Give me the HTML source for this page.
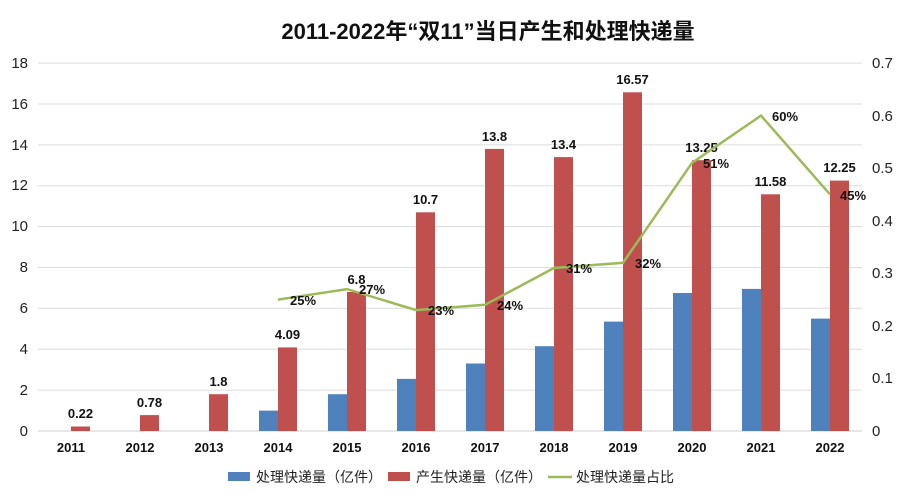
<!DOCTYPE html><html><head><meta charset="utf-8"><style>body{margin:0;background:#fff}svg{display:block;font-family:"Liberation Sans","Noto Sans CJK SC",sans-serif}</style></head><body>
<svg width="900" height="500" viewBox="0 0 900 500">
<rect width="900" height="500" fill="#fff"/>
<text x="488" y="39" text-anchor="middle" font-size="22" font-weight="bold" fill="#111">2011-2022年“双11”当日产生和处理快递量</text>
<g stroke="#dcdcdc" stroke-width="1">
<line x1="38" x2="862" y1="390.1" y2="390.1"/><line x1="38" x2="862" y1="349.2" y2="349.2"/><line x1="38" x2="862" y1="308.3" y2="308.3"/><line x1="38" x2="862" y1="267.5" y2="267.5"/><line x1="38" x2="862" y1="226.6" y2="226.6"/><line x1="38" x2="862" y1="185.7" y2="185.7"/><line x1="38" x2="862" y1="144.9" y2="144.9"/><line x1="38" x2="862" y1="104" y2="104"/><line x1="38" x2="862" y1="63.1" y2="63.1"/>
</g>
<line x1="38" x2="862" y1="431" y2="431" stroke="#cfcfcf"/>
<g font-size="15" fill="#222" text-anchor="end">
<text x="28" y="436">0</text><text x="28" y="395">2</text><text x="28" y="354">4</text><text x="28" y="313">6</text><text x="28" y="272">8</text><text x="28" y="231">10</text><text x="28" y="190">12</text><text x="28" y="150">14</text><text x="28" y="109">16</text><text x="28" y="68">18</text>
</g>
<g font-size="15" fill="#222" text-anchor="start">
<text x="872" y="436">0</text><text x="872" y="383">0.1</text><text x="872" y="331">0.2</text><text x="872" y="278">0.3</text><text x="872" y="226">0.4</text><text x="872" y="173">0.5</text><text x="872" y="121">0.6</text><text x="872" y="68">0.7</text>
</g>
<g fill="#4f81bd">
<rect x="259" y="410.6" width="19" height="20.4"/><rect x="328" y="394.2" width="19" height="36.8"/><rect x="397" y="378.9" width="19" height="52.1"/><rect x="466" y="363.5" width="19" height="67.5"/><rect x="535" y="346.2" width="19" height="84.8"/><rect x="604" y="321.6" width="19" height="109.4"/><rect x="673" y="293" width="19" height="138"/><rect x="742" y="288.9" width="19" height="142.1"/><rect x="811" y="318.6" width="19" height="112.4"/>
</g>
<g fill="#c0504d">
<rect x="71" y="426.5" width="19" height="4.5"/><rect x="140" y="415.1" width="19" height="15.9"/><rect x="209" y="394.2" width="19" height="36.8"/><rect x="278" y="347.4" width="19" height="83.6"/><rect x="347" y="292" width="19" height="139"/><rect x="416" y="212.3" width="19" height="218.7"/><rect x="485" y="148.9" width="19" height="282.1"/><rect x="554" y="157.1" width="19" height="273.9"/><rect x="623" y="92.3" width="19" height="338.7"/><rect x="692" y="160.2" width="19" height="270.8"/><rect x="761" y="194.3" width="19" height="236.7"/><rect x="830" y="180.6" width="19" height="250.4"/>
</g>
<g font-size="13" font-weight="bold" fill="#111" text-anchor="middle">
<text x="80.5" y="418">0.22</text><text x="149.5" y="407">0.78</text><text x="218.5" y="386">1.8</text><text x="287.5" y="339">4.09</text><text x="356.5" y="284">6.8</text><text x="425.5" y="204">10.7</text><text x="494.5" y="141">13.8</text><text x="563.5" y="149">13.4</text><text x="632.5" y="84">16.57</text><text x="701.5" y="152">13.25</text><text x="770.5" y="186">11.58</text><text x="839.5" y="172">12.25</text>
</g>
<polyline fill="none" stroke="#9bbb59" stroke-width="2.5" points="278,299.6 347,289.1 416,310.1 485,304.8 554,268 623,262.8 692,162.9 761,115.6 830,194.4"/>
<g font-size="13" font-weight="bold" fill="#111">
<text x="290" y="305">25%</text><text x="359" y="294">27%</text><text x="428" y="315">23%</text><text x="497" y="310">24%</text><text x="566" y="273">31%</text><text x="635" y="268">32%</text><text x="703" y="168">51%</text><text x="772" y="121">60%</text><text x="840" y="200">45%</text>
</g>
<g font-size="13" font-weight="bold" fill="#111" text-anchor="middle">
<text x="71" y="452">2011</text><text x="140" y="452">2012</text><text x="209" y="452">2013</text><text x="278" y="452">2014</text><text x="347" y="452">2015</text><text x="416" y="452">2016</text><text x="485" y="452">2017</text><text x="554" y="452">2018</text><text x="623" y="452">2019</text><text x="692" y="452">2020</text><text x="761" y="452">2021</text><text x="830" y="452">2022</text>
</g>
<g font-size="14" fill="#222">
<rect x="228" y="472" width="22" height="9" fill="#4f81bd"/><text x="256" y="482">处理快递量（亿件）</text>
<rect x="388" y="472" width="22" height="9" fill="#c0504d"/><text x="416" y="482">产生快递量（亿件）</text>
<line x1="548" x2="572" y1="477" y2="477" stroke="#9bbb59" stroke-width="2.5"/><text x="576" y="482">处理快递量占比</text>
</g>
</svg></body></html>
